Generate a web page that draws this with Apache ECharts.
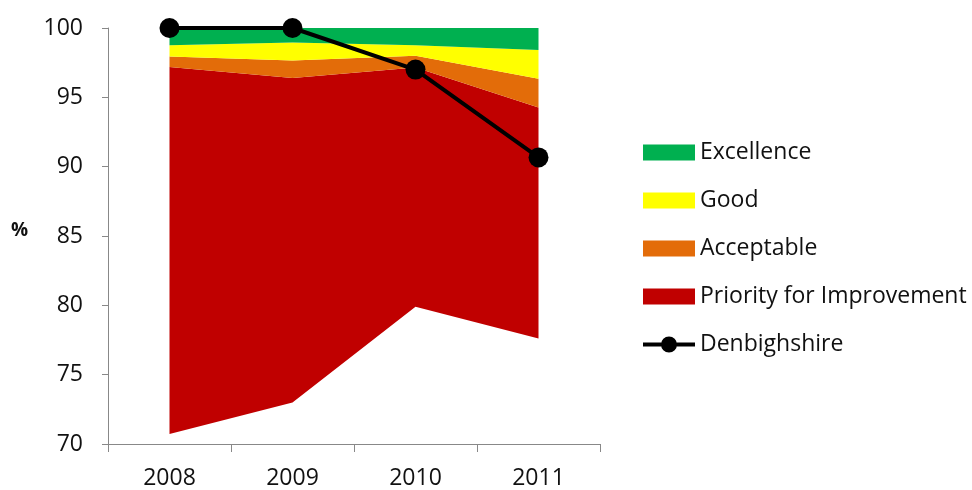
<!DOCTYPE html>
<html><head><meta charset="utf-8">
<script src="https://cdn.jsdelivr.net/npm/echarts@6/dist/echarts.min.js"></script>
<style>html,body{margin:0;padding:0;background:#fff}#c{width:972px;height:490px}</style>
</head><body><div id="c"></div>
<script>
const years = ['2008','2009','2010','2011'];
// band boundaries (% values)
const priorityLow  = [70.73, 72.99, 79.9, 77.6];
const priorityHigh = [97.18, 96.39, 97.15, 94.26];
const acceptableHigh = [97.94, 97.65, 97.99, 96.34];
const goodHigh = [98.76, 98.95, 98.75, 98.42];
const excellenceHigh = [100, 100, 100, 100];
const denbighshire = [100, 100, 97, 90.67];
const yTicks = [70, 75, 80, 85, 90, 95, 100];

const diff = (a, b) => a.map((v, i) => +(v - b[i]).toFixed(3));
const FONT = 'Open Sans';
function band(name, data, color) {
  return { name, type: 'line', stack: 'bands', data, symbol: 'none',
    lineStyle: { width: 0 }, areaStyle: { color, opacity: 1 }, itemStyle: { color },
    z: 1, emphasis: { disabled: true } };
}
const chart = echarts.init(document.getElementById('c'));
chart.setOption({
  animation: false,
  textStyle: { fontFamily: FONT },
  grid: { left: 108, right: 372, top: 28, bottom: 44 },
  legend: {
    orient: 'vertical', left: 638, top: 136, itemWidth: 52, itemHeight: 16, itemGap: 25,
    textStyle: { fontFamily: FONT, fontSize: 23, color: '#111' },
    data: [
      { name: 'Excellence', icon: 'rect' },
      { name: 'Good', icon: 'rect' },
      { name: 'Acceptable', icon: 'rect' },
      { name: 'Priority for Improvement', icon: 'rect' },
      { name: 'Denbighshire', icon: 'path://M0,6 L52,6 L52,10 L0,10 Z M18,8 A8,8 0 1,1 34,8 A8,8 0 1,1 18,8 Z' }
    ]
  },
  graphic: [{ type: 'text', x: 11, y: 231, style: { text: '%', fontFamily: FONT, fontSize: 19, fontWeight: 'bold', fill: '#111', verticalAlign: 'middle' } }],
  xAxis: {
    type: 'category', data: years, boundaryGap: true,
    axisLine: { lineStyle: { color: '#888', width: 1 } },
    axisTick: { show: true, length: 8, lineStyle: { color: '#888' } },
    axisLabel: { fontFamily: FONT, fontSize: 23, color: '#111', margin: 23 }
  },
  yAxis: {
    type: 'value', min: yTicks[0], max: yTicks[yTicks.length - 1], interval: 5,
    axisLine: { show: true, lineStyle: { color: '#888', width: 1 } },
    axisTick: { show: true, length: 6, lineStyle: { color: '#888' } },
    splitLine: { show: false },
    axisLabel: { fontFamily: FONT, fontSize: 23, color: '#111', margin: 25 }
  },
  series: [
    { name: 'base', type: 'line', stack: 'bands', data: priorityLow, symbol: 'none',
      lineStyle: { width: 0 }, areaStyle: { opacity: 0 }, silent: true, z: 1 },
    band('Priority for Improvement', diff(priorityHigh, priorityLow), '#C00000'),
    band('Acceptable', diff(acceptableHigh, priorityHigh), '#E36C09'),
    band('Good', diff(goodHigh, acceptableHigh), '#FFFF00'),
    band('Excellence', diff(excellenceHigh, goodHigh), '#00B050'),
    { name: 'Denbighshire', type: 'line', data: denbighshire, symbol: 'circle', symbolSize: 20,
      lineStyle: { color: '#000', width: 4 }, itemStyle: { color: '#000' }, z: 5 }
  ]
});
</script></body></html>
